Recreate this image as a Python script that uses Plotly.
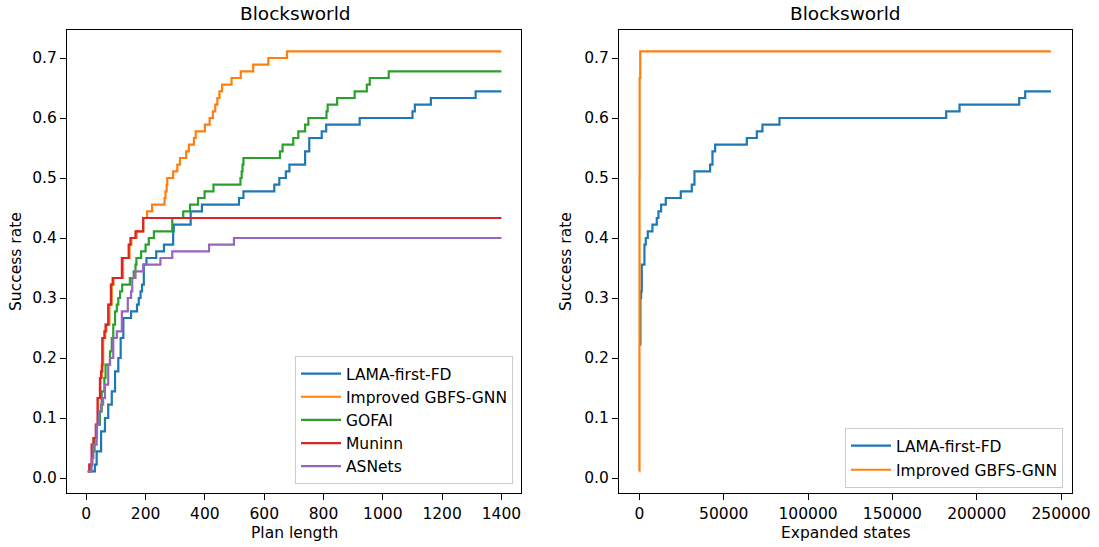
import plotly.graph_objects as go

TOTAL_TASKS = 90

# ---- Plan length (left panel): step points (plan length, tasks solved) ----
lama_len = [10, 29, 35, 50, 63, 74, 86, 97, 108, 116, 125, 151, 171, 177, 183, 188,
            194, 203, 236, 262, 293, 295, 352, 390, 515, 530, 634, 651, 673, 685,
            738, 752, 794, 809, 922, 1100, 1108, 1162, 1313, 1400]
lama_solved = [1, 2, 4, 7, 9, 11, 13, 16, 18, 21, 24, 25, 26, 27, 28, 29,
               32, 33, 34, 35, 37, 38, 40, 41, 42, 43, 44, 45, 46, 47,
               49, 51, 52, 53, 54, 55, 56, 57, 58, 58]

gnn_len = [6, 12, 20, 26, 34, 40, 48, 52, 57, 64, 68, 78, 86, 92, 124, 146, 152,
           170, 192, 205, 222, 264, 267, 271, 273, 293, 307, 316, 337, 346, 363,
           369, 400, 416, 427, 435, 442, 449, 458, 490, 521, 563, 614, 677, 1400]
gnn_solved = [1, 2, 5, 6, 8, 12, 15, 17, 21, 22, 23, 26, 29, 30, 33, 35, 36,
              37, 39, 40, 41, 42, 43, 44, 45, 46, 47, 48, 49, 50, 51,
              52, 53, 54, 55, 56, 57, 58, 59, 60, 61, 62, 63, 64, 64]

gofai_len = [8, 14, 20, 28, 36, 46, 52, 61, 65, 80, 86, 91, 97, 103, 108, 114,
             121, 147, 160, 166, 169, 185, 200, 211, 228, 290, 327, 350, 377,
             399, 429, 520, 524, 527, 530, 653, 662, 698, 715, 738, 749, 810,
             814, 846, 905, 946, 956, 1020, 1400]
gofai_solved = [1, 2, 4, 6, 8, 10, 13, 15, 17, 19, 21, 23, 25, 26, 27, 28,
                29, 30, 31, 32, 33, 34, 35, 36, 37, 39, 40, 41, 42,
                43, 44, 45, 46, 47, 48, 49, 50, 51, 52, 53, 54, 55,
                56, 57, 58, 59, 60, 61, 61]

muninn_len = [4.5, 10, 18, 24, 32, 38, 46, 50, 54, 61, 65, 74, 83, 89, 120,
              143, 149, 166, 192, 1400]
muninn_solved = [1, 2, 5, 6, 8, 12, 15, 16, 21, 22, 23, 26, 29, 30, 33,
                 35, 36, 37, 39, 39]

asnets_len = [4.5, 18, 24, 35, 43, 50, 57, 63, 74, 80, 91, 103, 120, 140, 151,
              155, 166, 192, 250, 290, 414, 498, 1400]
asnets_solved = [1, 3, 5, 8, 10, 11, 12, 14, 17, 18, 21, 22, 25, 27, 28,
                 30, 31, 32, 33, 34, 35, 36, 36]

# ---- Expanded states (right panel) ----
lama_exp = [415, 600, 1000, 1405, 2985, 3777, 4963, 7730, 10300, 11290, 12870,
            15640, 24535, 31060, 32640, 41930, 43315, 44900, 63680, 69610,
            72970, 83050, 181900, 189800, 225200, 228750, 244000]
lama_exp_solved = [20, 27, 28, 32, 35, 36, 37, 38, 39, 40, 41,
                   42, 43, 44, 46, 47, 49, 50, 51, 52,
                   53, 54, 55, 56, 57, 58, 58]

gnn_exp = [10, 40, 80, 150, 500, 244000]
gnn_exp_solved = [1, 20, 45, 60, 64, 64]

BLUE, ORANGE, GREEN, RED, PURPLE = "#1f77b4", "#ff7f0e", "#2ca02c", "#d62728", "#9467bd"
FONT = "DejaVu Sans"
TXT = 15.5

fig = go.Figure()


def add_step(xs, counts, name, color, xaxis, yaxis, legend):
    fig.add_trace(go.Scatter(
        x=xs, y=[c / TOTAL_TASKS for c in counts], name=name, mode="lines",
        line=dict(color=color, width=2.2, shape="hv"),
        xaxis=xaxis, yaxis=yaxis, legend=legend, legendgroup=name + legend,
    ))


add_step(lama_len, lama_solved, "LAMA-first-FD", BLUE, "x", "y", "legend")
add_step(gnn_len, gnn_solved, "Improved GBFS-GNN", ORANGE, "x", "y", "legend")
add_step(gofai_len, gofai_solved, "GOFAI", GREEN, "x", "y", "legend")
add_step(muninn_len, muninn_solved, "Muninn", RED, "x", "y", "legend")
add_step(asnets_len, asnets_solved, "ASNets", PURPLE, "x", "y", "legend")

add_step(lama_exp, lama_exp_solved, "LAMA-first-FD", BLUE, "x2", "y2", "legend2")
add_step(gnn_exp, gnn_exp_solved, "Improved GBFS-GNN", ORANGE, "x2", "y2", "legend2")

W, H = 1099, 547

axis_common = dict(
    showline=True, linecolor="black", linewidth=1, mirror=True,
    ticks="outside", ticklen=6, tickwidth=1, tickcolor="black",
    showgrid=False, zeroline=False, automargin=False,
    tickfont=dict(family=FONT, size=TXT, color="black"),
)

y_range = [-0.025, 0.7467]
y_ticks = [0.0, 0.1, 0.2, 0.3, 0.4, 0.5, 0.6, 0.7]

legend_common = dict(
    bgcolor="rgba(255,255,255,0.8)", bordercolor="#cccccc", borderwidth=1,
    font=dict(family=FONT, size=TXT, color="black"),
    xanchor="right", yanchor="bottom", traceorder="grouped",
    itemwidth=40,
)

fig.update_layout(
    width=W, height=H, autosize=False,
    margin=dict(l=0, r=0, t=0, b=0, pad=0, autoexpand=False),
    paper_bgcolor="white", plot_bgcolor="white",
    font=dict(family=FONT, size=TXT, color="black"),
    xaxis=dict(domain=[67 / W, 521 / W], range=[-65, 1466],
               tickvals=[0, 200, 400, 600, 800, 1000, 1200, 1400], **axis_common),
    yaxis=dict(domain=[54 / H, 517 / H], range=y_range, tickvals=y_ticks,
               tickformat=".1f", **axis_common),
    xaxis2=dict(domain=[619 / W, 1072 / W], range=[-12100, 256500],
                tickvals=[0, 50000, 100000, 150000, 200000, 250000],
                tickformat="d", anchor="y2", ticklabeloverflow="allow", **axis_common),
    yaxis2=dict(domain=[54 / H, 517 / H], range=y_range, tickvals=y_ticks,
                tickformat=".1f", anchor="x2", **axis_common),
    legend=dict(x=513 / W, y=63 / H, tracegroupgap=0, **legend_common),
    legend2=dict(x=1063 / W, y=59 / H, tracegroupgap=1, **legend_common),
    showlegend=True,
)

label_font = dict(family=FONT, size=TXT, color="black")
title_font = dict(family=FONT, size=18.5, color="black")
annotations = [
    dict(text="Blocksworld", x=295 / W, y=1 - 13 / H, font=title_font),
    dict(text="Blocksworld", x=845.5 / W, y=1 - 13 / H, font=title_font),
    dict(text="Plan length", x=294 / W, y=1 - 533 / H, font=label_font),
    dict(text="Expanded states", x=845.5 / W, y=1 - 533 / H, font=label_font),
    dict(text="Success rate", x=16 / W, y=1 - 262 / H, font=label_font, textangle=-90),
    dict(text="Success rate", x=566 / W, y=1 - 262 / H, font=label_font, textangle=-90),
]
for a in annotations:
    fig.add_annotation(xref="paper", yref="paper", showarrow=False,
                       xanchor="center", yanchor="middle", **a)

page_fix = (
    "document.documentElement.style.margin='0';"
    "document.documentElement.style.overflow='hidden';"
    "document.body.style.margin='0';"
    "document.body.style.overflow='hidden';"
)

fig.write_html("out.html", post_script=page_fix)
